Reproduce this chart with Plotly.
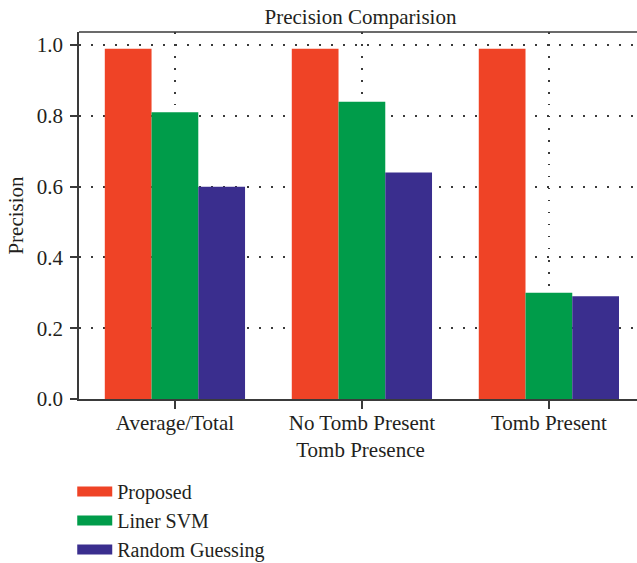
import plotly.graph_objects as go

categories = ["Average/Total", "No Tomb Present", "Tomb Present"]
proposed = [0.99, 0.99, 0.99]
liner_svm = [0.81, 0.84, 0.30]
random_guessing = [0.60, 0.64, 0.29]
series_names = ["Proposed", "Liner SVM", "Random Guessing"]
colors = ["#EF4326", "#009C4A", "#3A2E8E"]
y_ticks = [0.0, 0.2, 0.4, 0.6, 0.8, 1.0]

FONT = "Liberation Serif"
TXT = "#231F20"
AX = "#3a3a3a"
FS = 21

fig = go.Figure()
for name, vals, col in zip(series_names, [proposed, liner_svm, random_guessing], colors):
    fig.add_trace(go.Bar(x=categories, y=vals, name=name, marker=dict(color=col, line=dict(width=0)),
                         showlegend=False))
    # legend proxy with wide rectangular swatch
    fig.add_trace(go.Scatter(x=[None], y=[None], mode="lines", name=name,
                             line=dict(color=col, width=16)))

fig.update_layout(
    width=642, height=563,
    margin=dict(l=79, r=0, t=32, b=164, autoexpand=False),
    paper_bgcolor="white", plot_bgcolor="white",
    barmode="group", bargap=0.25, bargroupgap=0,
    font=dict(family=FONT, size=FS, color=TXT),
    title=dict(text="Precision Comparision", x=0.5, xref="paper", xanchor="center",
               y=1 - 17 / 563, yref="container", yanchor="middle",
               font=dict(size=FS, family=FONT, color=TXT)),
    legend=dict(x=-0.012, xref="paper", y=1 - 472 / 563, yref="container",
                yanchor="top", xanchor="left",
                font=dict(size=20, family=FONT, color=TXT), tracegroupgap=0,
                itemwidth=35, bgcolor="rgba(0,0,0,0)"),
    showlegend=True,
    shapes=[dict(type="line", xref="paper", yref="paper", x0=0, x1=1, y0=1, y1=1,
                 line=dict(color=AX, width=1.5), layer="above")],
)

fig.update_xaxes(
    range=[-0.513, 2.498], showline=True, linecolor=AX, linewidth=1.5, mirror=False,
    ticks="outside", ticklen=8, tickcolor=AX, tickwidth=1.5, ticklabelstandoff=-4,
    showgrid=True, gridcolor=AX, gridwidth=1.5, griddash="1.5px,10.5px",
    title=dict(text="Tomb Presence", standoff=8, font=dict(size=FS, family=FONT, color=TXT)),
    tickfont=dict(size=FS, family=FONT, color=TXT),
)
fig.update_yaxes(
    range=[0, 1.037], tickvals=y_ticks, ticktext=[f"{v:.1f}" for v in y_ticks],
    showline=True, linecolor=AX, linewidth=1.5,
    ticks="outside", ticklen=7, tickcolor=AX, tickwidth=1.5, ticklabelstandoff=3,
    showgrid=True, gridcolor=AX, gridwidth=1.5, griddash="1.5px,10.5px",
    zeroline=False,
    title=dict(text="Precision", standoff=7, font=dict(size=FS, family=FONT, color=TXT)),
    tickfont=dict(size=FS, family=FONT, color=TXT),
)

fig.write_html("out.html", config={"displayModeBar": False},
               post_script="document.body.style.margin='0';document.body.style.overflow='hidden';")
